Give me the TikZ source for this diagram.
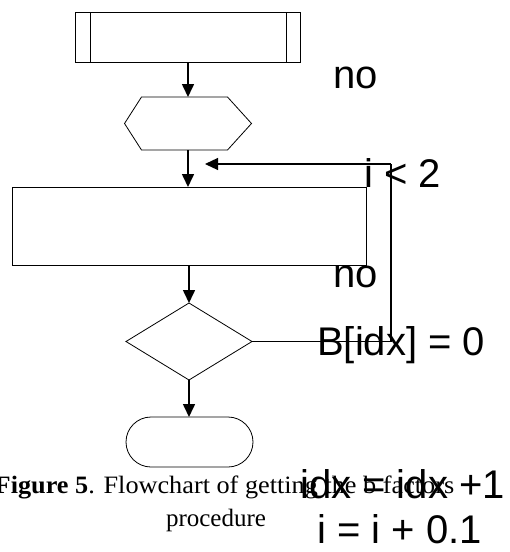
\documentclass[tikz,border=0pt]{standalone}
\usepackage{fontspec}
\setmainfont{Liberation Serif}
\newfontfamily\arialfont{Liberation Sans}
\usetikzlibrary{arrows.meta,shapes.geometric}
\begin{document}
\begin{tikzpicture}[x=1pt,y=-1pt,
  box/.style={draw=black,line width=0.8pt,inner sep=0pt,outer sep=0pt},
  arr/.style={draw=black,line width=1.6pt,-{Triangle[length=13pt,width=12pt]}},
  lbl/.style={font=\arialfont\fontsize{40}{48}\selectfont,inner sep=0pt,anchor=base west},
  captxt/.style={font=\fontsize{25}{30}\selectfont,inner sep=0pt,anchor=base}]
\useasboundingbox (0,0) rectangle (510,552);
% shapes
\node[box,minimum width=225pt,minimum height=50pt] (pp) at (188,37) {};
\draw[line width=0.8pt] ([xshift=15pt]pp.north west) -- ([xshift=15pt]pp.south west);
\draw[line width=0.8pt] ([xshift=-14pt]pp.north east) -- ([xshift=-14pt]pp.south east);
\node[inner sep=0pt,outer sep=0pt,minimum width=127pt,minimum height=53pt] (hex) at (188,123.5) {};
\draw[line width=0.8pt] (hex.west) -- ([xshift=17pt]hex.north west) -- ([xshift=-24pt]hex.north east)
  -- (hex.east) -- ([xshift=-24pt]hex.south east) -- ([xshift=17pt]hex.south west) -- cycle;
\node[box,minimum width=354pt,minimum height=78pt] (rect) at (189,226) {};
\node[box,diamond,minimum width=126pt,minimum height=77pt] (dia) at (189,341.5) {};
\node[box,rounded corners=25pt,minimum width=127pt,minimum height=50pt] (term) at (189.5,442) {};
% connectors
\coordinate (fb1) at (391,164);
\coordinate (fb2) at (205,164);
\draw[arr] (pp.south -| 188,0) -- (hex.north -| 188,0);
\draw[arr] (hex.south -| 188,0) -- (rect.north -| 188,0);
\draw[arr] (rect.south -| 189,0) -- (dia.north);
\draw[arr] (dia.south) -- (term.north -| 189,0);
\draw[line width=1.2pt] (dia.east) -| (fb1);
\draw[arr,line width=1.2pt] (fb1) -- (fb2);
% labels
\node[lbl] (no1) at (333,88) {no};
\node[lbl] (cond) at (364,187) {i < 2};
\node[lbl] (no2) at (333,287) {no};
\node[lbl] (bidx) at (317,355) {B[idx] = 0};
\node[lbl] (inc1) at (300,498) {idx = idx +1};
\node[lbl] (inc2) at (317,543) {i = i + 0.1};
% caption
\node[captxt] (cap1) at (224.5,493) {\scalebox{1.05}[1]{\textbf{Figure 5}. Flowchart of getting the b factors}};
\node[captxt] (cap2) at (216,526) {procedure};
\end{tikzpicture}
\end{document}
